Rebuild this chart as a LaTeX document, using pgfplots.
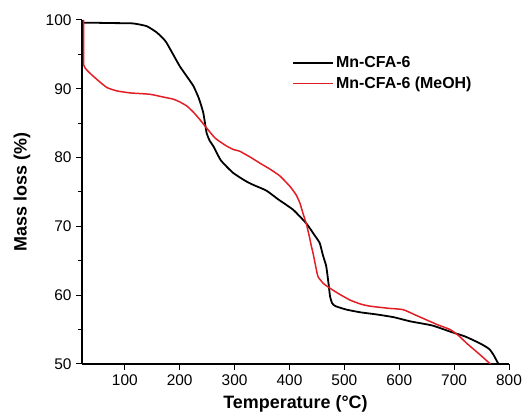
\documentclass[border=0pt]{standalone}
\usepackage{fontspec}
\setmainfont{Liberation Sans}
\usepackage{pgfplots}
\pgfplotsset{compat=1.18}
\definecolor{tgared}{RGB}{226,30,36}
\begin{document}
\begin{tikzpicture}
\begin{axis}[
  scale only axis,
  width=427bp, height=344bp,
  xmin=22, xmax=800,
  ymin=50, ymax=100,
  axis lines*=left,
  axis line style={line width=1.3pt},
  tick align=outside,
  xtick={100,200,...,800},
  ytick={50,60,...,100},
  minor y tick num=1,
  major tick length=6bp,
  minor tick length=3.5bp,
  tick style={line width=1pt, black},
  /pgf/number format/assume math mode=true,
  ticklabel style={font=\fontsize{15.5}{17}\selectfont},
  xticklabel style={yshift=-1bp},
  yticklabel style={xshift=-1bp},
  xlabel={\textbf{Temperature (°C)}},
  ylabel={\textbf{Mass loss (\%)}},
  label style={font=\fontsize{18}{20}\selectfont},
  xlabel style={at={(axis description cs:0.5,-0.1163)}, anchor=center},
  ylabel style={at={(axis description cs:-0.1405,0.5)}, anchor=center},
  legend style={at={(rel axis cs:0.485,0.906)}, anchor=north west, draw=none, fill=none,
    font=\fontsize{16}{18}\selectfont\bfseries, row sep=4bp},
  legend cell align=left,
  legend image code/.code={\draw[#1] (0bp,0bp) -- (40bp,0bp);},
]
\addplot[black, line width=1.8pt, smooth, tension=0.3] coordinates {
(22,99.6) (40,99.6) (80,99.55) (115,99.5) (140,99.1) (158,98.2) (170,97.3) (176,96.7)
(188,95.0) (200,93.3) (213,91.8) (225,90.4) (235,88.6) (243,86.5) (249,83.6) (255,82.4)
(261,81.7) (275,79.6) (297,77.8) (320,76.6) (335,76.0) (358,75.2) (380,73.9) (407,72.4)
(431,70.4) (445,68.8) (455,67.6) (461,65.8) (467,64.2) (471,61.8) (474,59.8) (478,58.8)
(484,58.4) (504,57.9) (530,57.5) (559,57.2) (590,56.8) (620,56.2) (660,55.6) (693,54.7)
(720,54.0) (747,53.0) (758,52.5) (765,52.1) (772,51.3) (778,50.4) (781,50.0)
};
\addplot[tgared, line width=1.5pt, smooth, tension=0.3] coordinates {
(25,100) (25,97) (25,93.5) (30,92.8) (36,92.3) (50,91.3) (67,90.2) (85,89.7) (110,89.4)
(146,89.2) (170,88.8) (188,88.5) (200,88.1) (213,87.5) (225,86.6) (237,85.5) (249,84.3)
(265,82.8) (285,81.7) (297,81.2) (310,80.9) (330,80.0) (346,79.2) (365,78.3) (383,77.3)
(401,75.8) (412,74.6) (419,73.4) (425,71.8) (431,70.3) (436,68.6) (440,67.1) (443,66.1)
(447,64.5) (452,62.7) (462,61.7) (474,61.0) (490,60.2) (510,59.3) (530,58.7) (547,58.4)
(580,58.1) (607,57.9) (630,57.1) (650,56.4) (670,55.7) (693,55.0) (710,54.0) (723,53.0)
(745,51.5) (766,50.0)
};
\legend{Mn-CFA-6, Mn-CFA-6 (MeOH)}
\end{axis}
\pgfresetboundingbox
\path ([shift={(-82bp,-54bp)}]current axis.south west) rectangle ([shift={(14bp,20bp)}]current axis.north east);
\end{tikzpicture}
\end{document}
